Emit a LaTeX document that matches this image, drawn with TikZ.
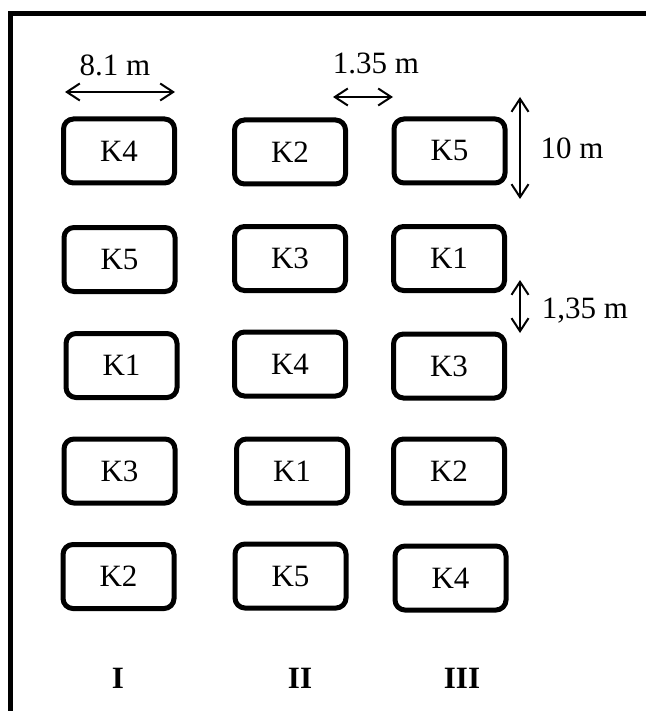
\documentclass[tikz,border=0pt]{standalone}
\usepackage{fontspec}
\setmainfont{Liberation Serif}
\usetikzlibrary{arrows.meta}
\begin{document}
\begin{tikzpicture}[x=1pt,y=-1pt,
  plotbox/.style={draw, line width=5pt, rounded corners=10pt, minimum width=111pt, minimum height=64pt, inner sep=0pt, font=\fontsize{31}{36}\selectfont},
  lbl/.style={font=\fontsize{31}{36}\selectfont, inner sep=0pt, anchor=base},
  collbl/.style={font=\fontsize{31}{36}\selectfont\bfseries, inner sep=0pt, anchor=base},
  dimarrow/.style={line width=2pt, {Straight Barb[length=13pt,width=17pt]}-{Straight Barb[length=13pt,width=17pt]}}]
\useasboundingbox (0,0) rectangle (646,711);
% frame
\draw[line width=5pt] (10,711) -- (10,13.5) -- (646,13.5);
% plots
\node[plotbox] (a1) at (119,151) {K4};
\node[plotbox] (b1) at (290,152) {K2};
\node[plotbox] (c1) at (449.5,151) {K5};
\node[plotbox] (a2) at (119.5,259.5) {K5};
\node[plotbox] (b2) at (290,258.5) {K3};
\node[plotbox] (c2) at (449,258.5) {K1};
\node[plotbox] (a3) at (121.5,365.5) {K1};
\node[plotbox] (b3) at (290,364) {K4};
\node[plotbox] (c3) at (449,366) {K3};
\node[plotbox] (a4) at (119.5,471) {K3};
\node[plotbox] (b4) at (292,471) {K1};
\node[plotbox] (c4) at (449,471) {K2};
\node[plotbox] (a5) at (118.5,576.5) {K2};
\node[plotbox] (b5) at (290.5,576) {K5};
\node[plotbox] (c5) at (450.5,578) {K4};
% column labels
\node[collbl] (cI) at (118,688) {I};
\node[collbl] (cII) at (300,688) {II};
\node[collbl] (cIII) at (462,688) {III};
% dimension labels
\node[lbl] (l81) at (115,76) {8.1 m};
\node[lbl] (l135a) at (376,74) {1.35 m};
\node[lbl] (l10) at (572,159) {10 m};
\node[lbl] (l135b) at (585,318) {1,35 m};
% dimension arrows
\coordinate (w1) at (65,92);
\coordinate (w2) at (175,92);
\coordinate (g1) at (333,97);
\coordinate (g2) at (393,97);
\coordinate (h1) at (520,97);
\coordinate (h2) at (520,199);
\coordinate (v1) at (520,280);
\coordinate (v2) at (520,333);
\draw[dimarrow] (w1) -- (w2);
\draw[dimarrow] (g1) -- (g2);
\draw[dimarrow] (h1) -- (h2);
\draw[dimarrow] (v1) -- (v2);
\end{tikzpicture}
\end{document}
